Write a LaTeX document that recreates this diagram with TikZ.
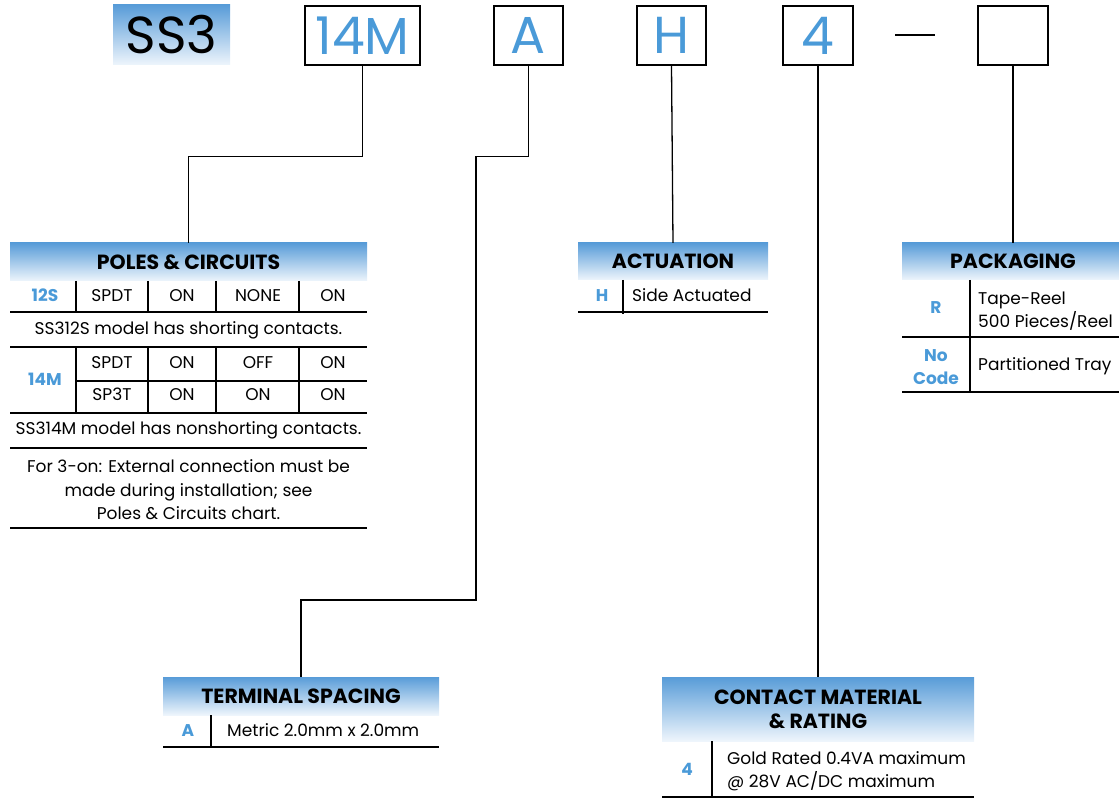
\documentclass[tikz,border=0pt]{standalone}
\usepackage{fontspec}
\setmainfont{Poppins}
\definecolor{codeblue}{RGB}{74,154,216}
\definecolor{hdtop}{RGB}{88,156,216}
\definecolor{hdbot}{RGB}{238,245,252}
\tikzset{
  head/.style={inner sep=0pt, top color=hdtop, bottom color=hdbot, align=center,
    font=\fontsize{20.5}{24}\selectfont\bfseries},
  codebox/.style={draw, line width=1.5pt, inner sep=0pt, minimum height=59pt,
    text=codeblue, font=\fontsize{52}{56}\selectfont},
  txt/.style={inner sep=0pt, font=\fontsize{17}{23.5}\selectfont},
  body/.style={txt, text height=0.7em, text depth=0pt},
  code/.style={body, text=codeblue, font=\fontsize{17}{23}\selectfont\bfseries},
  codeml/.style={txt, text=codeblue, align=center, font=\fontsize{17}{23}\selectfont\bfseries},
  rule/.style={line width=1.3pt},
  link/.style={line width=1.3pt}
}
\begin{document}
\begin{tikzpicture}[x=1pt, y=-1pt]
    \useasboundingbox (0,0) rectangle (1119,799);

    \node[head, minimum width=117pt, minimum height=60pt, font=\fontsize{52}{56}\selectfont]
        at (171.5,35)  (ss3)  {SS3};
    \node[codebox, minimum width=115pt] at (362.5,35.5) (b14M)   {14M};
    \node[codebox, minimum width=69pt]  at (528.5,35.5) (bA)     {A};
    \node[codebox, minimum width=69pt]  at (671.5,35.5) (bH)     {H};
    \node[codebox, minimum width=70pt]  at (818,35.5)   (b4)     {4};
    \node[codebox, minimum width=70pt]  at (1013,35.5)  (bPack)  {};
    \draw[line width=1.5pt] (895,35) -- (935,35);

    \node[head, minimum width=357pt, minimum height=38pt] at (188.5,262) (poles) {POLES \& CIRCUITS};
    \node[code] at (45,298)  (p12S)  {12S};
    \node[body] at (112,298) (p1a)   {SPDT};
    \node[body] at (182,298) (p1b)   {ON};
    \node[body] at (258,298) (p1c)   {NONE};
    \node[body] at (333,298) (p1d)   {ON};
    \node[body] at (188.5,331) (pnote1) {SS312S model has shorting contacts.};
    \node[code] at (45,382)  (p14M)  {14M};
    \node[body] at (112,365) (p2a)   {SPDT};
    \node[body] at (182,365) (p2b)   {ON};
    \node[body] at (258,365) (p2c)   {OFF};
    \node[body] at (333,365) (p2d)   {ON};
    \node[body] at (112,397) (p3a)   {SP3T};
    \node[body] at (182,397) (p3b)   {ON};
    \node[body] at (258,397) (p3c)   {ON};
    \node[body] at (333,397) (p3d)   {ON};
    \node[body] at (188.5,431) (pnote2) {SS314M model has nonshorting contacts.};
    \node[txt, align=center] at (188.5,490) (pnote3)
        {For 3-on: External connection must be\\made during installation; see\\Poles \& Circuits chart.};
    \foreach \y in {312,347,413,448,528}
        \draw[rule] (10,\y) -- (367,\y);
    \draw[rule] (76,381) -- (367,381);
    \foreach \x in {76,148,216,299} {
        \draw[rule] (\x,281) -- (\x,312);
        \draw[rule] (\x,347) -- (\x,413);
    }

    \node[head, minimum width=190pt, minimum height=37pt] at (673,261.5) (act) {ACTUATION};
    \node[code] at (602,298) (aH) {H};
    \node[body, anchor=west] at (632,298) (aside) {Side Actuated};
    \draw[rule] (578,312) -- (768,312);
    \draw[rule] (623,280) -- (623,314);

    \node[head, minimum width=222pt, minimum height=37pt] at (1013,261.5) (pack) {PACKAGING};
    \node[code] at (936,310) (kR) {R};
    \node[txt, anchor=west, align=left] at (978,311) (ktape) {Tape-Reel\\500 Pieces/Reel};
    \node[codeml] at (936,367) (kno) {No\\Code};
    \node[body, anchor=west] at (978,367) (ktray) {Partitioned Tray};
    \draw[rule] (902,337) -- (1119,337);
    \draw[rule] (902,392) -- (1119,392);
    \draw[rule] (970,280) -- (970,393);

    \node[head, minimum width=276pt, minimum height=38pt] at (301,696) (term) {TERMINAL SPACING};
    \node[code] at (188,733) (tA) {A};
    \node[body, anchor=west] at (227,733) (tmetric) {Metric 2.0mm x 2.0mm};
    \draw[rule] (163,747) -- (439,747);
    \draw[rule] (211,715) -- (211,748);

    \node[head, minimum width=312pt, minimum height=64pt] at (818,709) (cont) {CONTACT MATERIAL\\\& RATING};
    \node[code] at (687,772) (c4) {4};
    \node[txt, anchor=west, align=left] at (727,771) (cgold) {Gold Rated 0.4VA maximum\\@ 28V AC/DC maximum};
    \draw[rule] (662,797) -- (974,797);
    \draw[rule] (712,741) -- (712,797);

    \coordinate (abend) at (476,600);
    \draw[link] (b14M.south) -- ++(0,90.5) -| (poles.north);
    \draw[link] (bA.south) -- ++(0,90.5) -| (abend) -| (term.north);
    \draw[link] (bH.south) -- (act.north);
    \draw[link] (b4.south) -- (cont.north);
    \draw[link] (bPack.south) -- (pack.north);
\end{tikzpicture}
\end{document}
